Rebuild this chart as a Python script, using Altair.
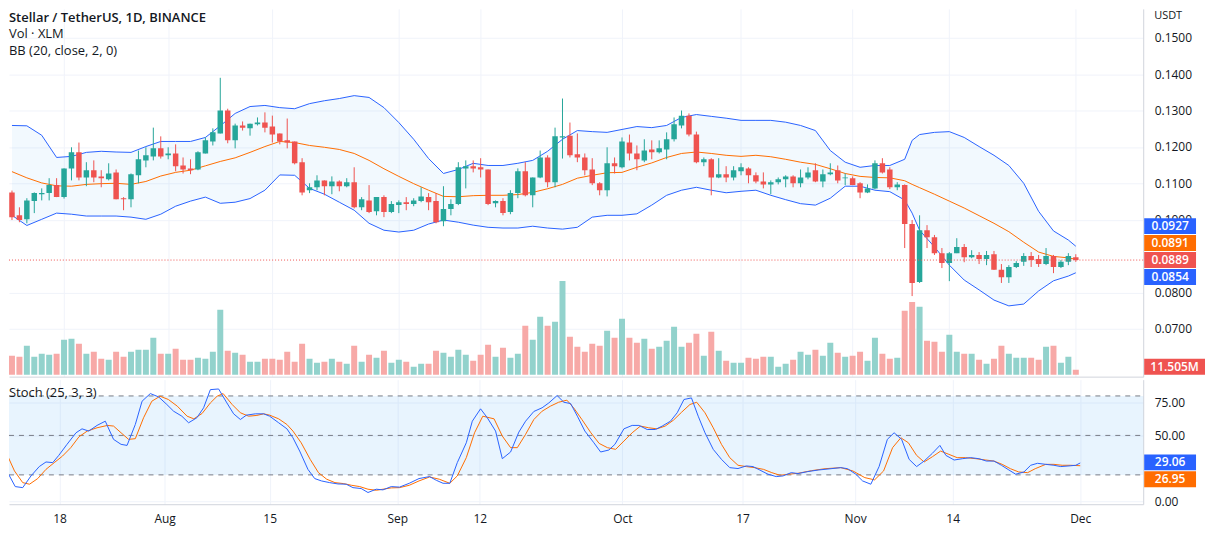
import altair as alt
import pandas as pd

# ---------------- data ----------------
# daily candles, day 0 = 2021-07-11 ... day 143 = 2021-12-01
opens = [.1075,.1012,.1001,.1051,.1070,.1073,.1095,.1062,.1141,.1185,
         .1116,.1136,.1119,.1111,.1130,.1059,.1056,.1122,.1163,.1174,
         .1196,.1177,.1182,.1149,.1141,.1138,.1182,.1215,.1237,.1300,
         .1218,.1259,.1251,.1262,.1267,.1256,.1237,.1218,.1215,.1158,
         .1081,.1089,.1108,.1092,.1105,.1092,.1103,.1034,.1053,.1023,
         .1062,.1021,.1040,.1048,.1043,.1051,.1062,.1051,.0996,.1029,
         .1043,.1141,.1147,.1144,.1138,.1045,.1051,.1021,.1073,.1133,
         .1067,.1116,.1171,.1103,.1226,.1231,.1180,.1171,.1138,.1100,
         .1081,.1155,.1144,.1212,.1182,.1163,.1193,.1185,.1193,.1221,
         .1259,.1286,.1234,.1158,.1166,.1116,.1125,.1116,.1133,.1141,
         .1122,.1105,.1097,.1103,.1111,.1119,.1100,.1116,.1136,.1105,
         .1125,.1136,.1114,.1114,.1100,.1075,.1086,.1155,.1138,.1089,
         .1095,.0988,.0829,.0971,.0952,.0908,.0881,.0908,.0925,.0897,
         .0903,.0892,.0905,.0862,.0842,.0870,.0884,.0900,.0892,.0878,
         .0900,.0870,.0884,.0897]
highs = [.1080,.1034,.1059,.1075,.1086,.1114,.1114,.1141,.1199,.1212,
         .1158,.1163,.1136,.1155,.1138,.1062,.1127,.1190,.1199,.1253,
         .1229,.1199,.1207,.1171,.1166,.1188,.1226,.1251,.1390,.1305,
         .1264,.1270,.1264,.1281,.1295,.1286,.1237,.1278,.1215,.1169,
         .1100,.1122,.1108,.1119,.1108,.1114,.1144,.1062,.1095,.1062,
         .1067,.1051,.1053,.1062,.1059,.1089,.1073,.1073,.1092,.1056,
         .1158,.1163,.1163,.1169,.1138,.1053,.1059,.1081,.1141,.1158,
         .1116,.1190,.1177,.1253,.1333,.1267,.1237,.1182,.1169,.1103,
         .1199,.1171,.1226,.1234,.1204,.1221,.1218,.1218,.1240,.1281,
         .1300,.1292,.1242,.1171,.1169,.1169,.1147,.1147,.1155,.1144,
         .1130,.1130,.1108,.1116,.1122,.1122,.1138,.1144,.1155,.1138,
         .1155,.1149,.1127,.1119,.1103,.1097,.1163,.1169,.1144,.1103,
         .1097,.0999,.1012,.0985,.0958,.0922,.0911,.0949,.0933,.0916,
         .0911,.0914,.0914,.0878,.0875,.0886,.0908,.0911,.0903,.0922,
         .0903,.0889,.0908,.0905]
lows = [.0999,.0993,.0990,.1018,.1053,.1053,.1062,.1058,.1108,.1108,
        .1092,.1103,.1089,.1108,.1056,.1026,.1034,.1100,.1144,.1163,
        .1168,.1166,.1133,.1127,.1125,.1136,.1182,.1204,.1237,.1210,
        .1196,.1245,.1231,.1259,.1240,.1212,.1207,.1196,.1152,.1067,
        .1073,.1081,.1067,.1070,.1078,.1089,.1031,.1026,.1018,.1012,
        .1007,.1018,.1018,.1026,.1037,.1048,.1026,.0990,.0982,.1012,
        .1040,.1086,.1130,.1116,.1040,.1034,.1012,.1015,.1059,.1064,
        .1034,.1114,.1089,.1089,.1168,.1171,.1158,.1122,.1095,.1067,
        .1064,.1127,.1141,.1163,.1136,.1158,.1166,.1182,.1166,.1215,
        .1251,.1229,.1155,.1147,.1067,.1114,.1103,.1108,.1122,.1100,
        .1100,.1086,.1070,.1097,.1089,.1089,.1089,.1111,.1103,.1089,
        .1122,.1100,.1095,.1095,.1059,.1073,.1084,.1127,.1084,.1081,
        .0922,.0790,.0826,.0922,.0903,.0867,.0831,.0908,.0883,.0894,
        .0878,.0875,.0862,.0826,.0826,.0867,.0873,.0870,.0870,.0875,
        .0853,.0867,.0875,.0884]
closes = [.1007,.0999,.1053,.1073,.1073,.1095,.1062,.1141,.1185,.1116,
          .1136,.1116,.1114,.1127,.1056,.1056,.1125,.1166,.1177,.1196,
          .1174,.1182,.1147,.1138,.1136,.1185,.1218,.1240,.1300,.1218,
          .1259,.1253,.1264,.1267,.1253,.1234,.1215,.1212,.1155,.1075,
          .1089,.1108,.1092,.1105,.1092,.1103,.1034,.1056,.1021,.1062,
          .1021,.1043,.1048,.1043,.1053,.1064,.1048,.0993,.1029,.1043,
          .1144,.1147,.1141,.1138,.1043,.1051,.1018,.1073,.1133,.1067,
          .1116,.1171,.1103,.1229,.1229,.1177,.1171,.1136,.1100,.1081,
          .1155,.1147,.1215,.1182,.1166,.1190,.1185,.1196,.1221,.1262,
          .1286,.1234,.1158,.1166,.1116,.1125,.1116,.1136,.1144,.1122,
          .1105,.1097,.1103,.1111,.1119,.1100,.1116,.1130,.1105,.1125,
          .1130,.1108,.1116,.1095,.1075,.1086,.1155,.1130,.1089,.1097,
          .0988,.0826,.0971,.0952,.0908,.0881,.0908,.0925,.0897,.0903,
          .0892,.0903,.0862,.0842,.0870,.0881,.0900,.0889,.0878,.0900,
          .0870,.0884,.0900,.0889]
# volume in millions of XLM
volumes = [43.7,41.4,66.7,41.4,48.3,46.0,48.3,80.5,82.8,71.3,
           48.3,52.9,36.8,34.5,52.9,41.4,52.9,57.5,57.5,85.1,
           48.3,48.3,59.8,34.5,34.5,39.1,36.8,52.9,149.5,55.2,
           50.6,46.0,29.9,29.9,36.8,36.8,34.5,52.9,29.9,71.3,
           36.8,27.6,29.9,36.8,29.9,25.3,66.7,29.9,46.0,39.1,
           55.2,27.6,34.5,29.9,18.4,25.3,25.3,55.2,50.6,41.4,
           57.5,46.0,32.2,46.0,69.0,41.4,62.1,39.1,48.3,112.7,
           80.5,133.4,112.7,121.9,216.2,87.4,64.4,52.9,71.3,66.7,
           101.2,85.1,128.8,85.1,73.6,82.8,59.8,64.4,78.2,110.4,
           64.4,73.6,94.3,43.7,98.9,55.2,32.2,27.6,27.6,39.1,
           36.8,41.4,41.4,18.4,25.3,34.5,52.9,46.0,57.5,43.7,
           73.6,50.6,41.4,43.7,52.9,32.2,85.1,48.3,36.8,39.1,
           147.2,167.9,156.4,78.2,75.9,52.9,92.0,52.9,48.3,48.3,
           34.5,25.3,36.8,66.7,48.3,39.1,39.1,39.1,34.5,64.4,
           66.7,27.6,41.4,11.505]

# Bollinger Bands (20, close, 2) read at these days
bb_days = list(range(0, 121, 2)) + [121] + list(range(122, 143, 2)) + [143]
bb_upper = [.1259,.1258,.1232,.1171,.1174,.1185,.1188,.1186,.1185,.1201,
            .1215,.1215,.1215,.1226,.1258,.1292,.1311,.1314,.1308,.1305,
            .1319,.1327,.1333,.1341,.1336,.1308,.1267,.1221,.1168,.1127,
            .1138,.1155,.1149,.1149,.1155,.1163,.1188,.1221,.1245,.1242,
            .1240,.1248,.1256,.1253,.1259,.1281,.1289,.1284,.1279,.1273,
            .1273,.1273,.1268,.1259,.1245,.1190,.1158,.1144,.1149,.1149,
            .1166,.1218,.1234,.1240,.1242,.1226,.1201,.1177,.1149,.1100,
            .1023,.0969,.0944,.0927]
bb_basis = [.1132,.1115,.1101,.1093,.1092,.1097,.1099,.1100,.1097,.1105,
            .1120,.1130,.1136,.1148,.1160,.1170,.1185,.1201,.1215,.1212,
            .1204,.1199,.1193,.1182,.1163,.1140,.1119,.1099,.1081,.1064,
            .1063,.1066,.1067,.1067,.1069,.1075,.1085,.1097,.1114,.1122,
            .1129,.1130,.1144,.1156,.1171,.1182,.1186,.1182,.1177,.1174,
            .1177,.1173,.1166,.1158,.1152,.1140,.1127,.1119,.1116,.1115,
            .1107,.1097,.1088,.1070,.1051,.1032,.1011,.0990,.0967,.0938,
            .0911,.0899,.0895,.0891]
bb_lower = [.1012,.0984,.1001,.1018,.1015,.1010,.1010,.1010,.1007,.1001,
            .1015,.1037,.1051,.1062,.1045,.1048,.1058,.1081,.1123,.1122,
            .1086,.1070,.1048,.1026,.0990,.0971,.0966,.0971,.0988,.0999,
            .0993,.0985,.0979,.0977,.0977,.0982,.0977,.0974,.0979,.1007,
            .1012,.1012,.1016,.1040,.1067,.1081,.1089,.1081,.1074,.1078,
            .1081,.1067,.1055,.1044,.1040,.1059,.1092,.1092,.1081,.1077,
            .1054,.1018,.0971,.0925,.0875,.0834,.0807,.0779,.0763,.0768,
            .0804,.0832,.0845,.0854]

# Stochastic (25, 3, 3)
k_days = [-0.8,0.1,1.1,2.1,3.2,4.3,5.2,6.1,6.9,8.0,
          9.2,10.0,10.9,12.0,13.1,14.2,15.2,16.0,17.1,18.0,
          19.1,20.2,21.3,22.2,23.3,24.2,25.3,26.2,27.1,28.2,
          29.3,30.2,31.1,31.9,33.1,34.2,35.0,36.2,37.3,38.1,
          39.0,40.1,41.0,41.9,43.0,44.1,45.2,46.1,47.2,48.1,
          49.2,50.1,51.2,52.3,53.6,54.9,56.3,57.2,58.1,59.0,
          60.0,61.2,62.0,63.1,64.0,65.1,66.0,67.1,68.2,69.1,
          70.2,71.3,72.2,73.3,74.2,75.1,76.0,77.0,78.2,79.1,
          80.2,81.0,82.2,83.3,84.2,85.3,86.4,87.3,88.4,89.3,
          90.2,91.2,92.1,93.0,94.1,95.2,96.3,97.4,98.5,99.4,
          100.3,101.4,102.5,103.4,104.5,105.4,106.7,108.1,109.8,111.1,
          112.0,113.1,114.0,115.1,116.2,117.3,118.2,119.2,120.2,121.2,
          122.2,123.3,124.3,125.1,126.2,127.3,128.4,129.5,130.5,131.5,
          132.5,133.5,134.4,135.5,136.4,137.3,138.4,139.5,140.4,141.5,
          142.4,143.0]
k_vals = [35.6,21.7,11.1,10.3,19.2,26.3,29.8,29.3,34.8,43.2,
          52.0,55.0,53.3,57.6,60.8,47.0,43.2,42.4,58.3,76.0,
          81.8,79.3,73.5,68.4,64.6,59.6,63.4,71.0,84.8,85.3,
          74.7,66.4,62.1,65.4,66.4,66.4,64.6,59.6,55.0,48.2,
          38.1,24.2,17.2,15.4,14.1,13.1,12.9,10.3,9.6,6.6,
          9.1,8.6,11.1,10.7,13.6,17.2,18.7,15.9,13.6,13.6,
          29.3,44.4,60.8,70.2,63.4,53.3,32.3,37.4,52.5,60.8,
          68.2,71.0,74.7,80.3,75.2,74.2,64.6,53.3,44.4,37.4,
          38.9,43.2,55.0,57.6,57.6,54.5,54.5,57.1,60.8,67.2,
          77.3,78.5,64.6,52.0,39.4,31.8,25.5,24.8,26.8,26.3,
          23.7,20.5,18.7,19.2,21.7,21.0,22.5,23.7,24.7,25.5,
          24.7,20.5,15.4,12.9,26.3,47.0,52.0,47.0,31.8,26.3,
          30.5,36.4,42.4,34.8,31.3,32.3,33.1,32.3,30.5,30.5,
          27.3,23.7,20.5,22.2,27.3,28.8,28.0,27.3,26.3,26.8,
          27.3,29.06]
d_days = [-0.8,0.1,1.0,2.1,3.0,4.1,5.2,6.3,7.4,8.5,
          9.6,10.7,12.0,13.4,14.2,15.2,16.2,17.1,18.2,19.3,
          20.4,21.5,22.7,24.0,24.9,26.0,27.1,28.0,28.8,30.0,
          31.1,32.2,33.3,34.2,35.0,36.2,37.3,38.1,39.2,40.4,
          41.5,42.6,43.7,44.8,45.9,47.0,48.1,49.2,50.1,51.2,
          52.3,53.6,54.9,56.3,57.6,59.0,60.0,61.2,62.3,63.4,
          64.9,66.0,67.1,68.0,69.1,70.2,71.3,72.4,73.5,74.6,
          75.5,76.6,77.8,78.9,80.0,81.1,82.2,83.3,84.4,85.5,
          86.6,87.7,88.8,89.9,91.0,91.9,93.0,94.1,95.2,96.3,
          97.4,98.5,99.6,100.8,101.9,103.0,104.1,105.4,107.2,109.0,
          111.1,112.7,114.3,115.6,116.8,118.0,119.1,120.1,121.2,122.2,
          123.3,124.4,125.5,126.6,127.7,129.1,130.4,131.5,132.6,133.7,
          134.8,136.0,137.0,138.4,139.5,140.6,141.7,143.0]
d_vals = [40.7,34.3,23.0,14.1,12.9,17.2,24.2,29.3,34.3,40.7,
          49.0,53.3,55.8,57.6,57.1,52.0,47.0,47.5,63.4,76.0,
          79.8,77.3,72.2,64.6,62.6,66.7,74.7,79.8,81.8,73.5,
          67.2,64.6,65.2,66.4,65.4,62.6,58.3,53.3,44.4,31.8,
          21.7,16.7,14.1,13.4,12.1,11.1,9.1,8.3,9.1,10.1,
          10.3,12.1,15.4,18.4,16.7,13.6,19.2,33.1,52.0,64.6,
          62.6,49.5,40.7,40.7,50.8,62.1,68.4,72.2,75.2,76.8,
          71.0,62.1,52.0,43.9,40.7,39.4,45.7,52.0,57.1,55.8,
          55.0,57.1,61.6,67.7,73.5,75.2,67.2,55.8,43.2,33.1,
          27.3,26.3,25.5,24.2,21.7,19.7,20.5,21.2,23.2,24.7,
          25.5,23.0,17.9,16.2,23.0,40.7,48.2,44.4,34.8,29.8,
          33.8,38.1,35.6,33.1,33.1,32.3,31.3,30.5,28.0,24.7,
          22.2,21.7,24.7,28.0,28.0,27.3,27.3,26.95]
stoch_levels = [80, 50, 20]

tick_days = [7, 21, 35, 52, 63, 82, 98, 113, 126, 143]
tick_labels = ["18", "Aug", "15", "Sep", "12", "Oct", "17", "Nov", "14", "Dec"]
price_ticks = [0.07, 0.08, 0.10, 0.11, 0.12, 0.13, 0.14, 0.15]
stoch_ticks = [0, 50, 75]

# ---------------- style / layout ----------------
W, H1, H2 = 1138, 369, 125
FONT = "Open Sans"
TXT = "#131722"
UP, DOWN = "#26a69a", "#ef5350"
VUP, VDOWN = "#92d2cc", "#f7a9a7"
BLUE, ORANGE = "#2962ff", "#ff6d00"
GRID, BORDER = "#f0f3fa", "#d1d4dc"

x_scale = alt.Scale(domain=[0.27, 151.39], nice=False, zero=False)
price_scale = alt.Scale(domain=[0.05685, 0.15795], nice=False, zero=False)
vol_scale = alt.Scale(domain=[-4.6, 844.1], nice=False, zero=False)
stoch_scale = alt.Scale(domain=[-2.3, 92.4], nice=False, zero=False)

candles = pd.DataFrame({"day": list(range(len(closes))), "open": opens, "high": highs,
                        "low": lows, "close": closes, "volume": volumes})
candles["base"] = 0.0
bb = pd.DataFrame({"day": bb_days, "upper": bb_upper, "basis": bb_basis, "lower": bb_lower})
kdf = pd.DataFrame({"day": k_days, "v": k_vals})
ddf = pd.DataFrame({"day": d_days, "v": d_vals})

label_expr = " : ".join(f"datum.value == {d} ? '{l}'" for d, l in zip(tick_days, tick_labels)) + " : ''"

x_top = alt.X("day:Q", scale=x_scale, title=None,
              axis=alt.Axis(values=tick_days, labels=False, ticks=False, domain=True,
                            domainColor=BORDER, grid=True, gridColor=GRID))
x_bot = alt.X("day:Q", scale=x_scale, title=None,
              axis=alt.Axis(values=tick_days, labelExpr=label_expr, labelFont=FONT,
                            labelFontSize=12, labelColor=TXT, labelPadding=9, labelAngle=0,
                            labelOverlap=False, labelFlush=False, ticks=False, domain=True,
                            domainColor=BORDER, grid=True, gridColor=GRID))
price_axis = alt.Axis(orient="right", values=price_ticks, format=".4f", labelFont=FONT,
                      labelFontSize=12, labelColor=TXT, labelPadding=11, ticks=False,
                      domain=True, domainColor=BORDER, grid=True, gridColor=GRID)
stoch_axis = alt.Axis(orient="right", values=stoch_ticks, format=".2f", labelFont=FONT,
                      labelFontSize=12, labelColor=TXT, labelPadding=11, ticks=False,
                      domain=True, domainColor=BORDER, grid=True, gridColor=GRID)


def py(field):
    return alt.Y(field, scale=price_scale, axis=price_axis, title=None)


def sy(field):
    return alt.Y(field, scale=stoch_scale, axis=stoch_axis, title=None)


updown = alt.condition("datum.close >= datum.open", alt.value(UP), alt.value(DOWN))
vupdown = alt.condition("datum.close >= datum.open", alt.value(VUP), alt.value(VDOWN))

vol = alt.Chart(candles).mark_bar(size=6, clip=True).encode(
    x=x_top, y=alt.Y("volume:Q", scale=vol_scale, axis=None, title=None), y2="base:Q", color=vupdown)

bb_area = alt.Chart(bb).mark_area(color="#2196f3", opacity=0.06, clip=True).encode(
    x=x_top, y=py("upper:Q"), y2="lower:Q")
bb_up = alt.Chart(bb).mark_line(color=BLUE, strokeWidth=1, clip=True).encode(x=x_top, y=py("upper:Q"))
bb_mid = alt.Chart(bb).mark_line(color=ORANGE, strokeWidth=1, clip=True).encode(x=x_top, y=py("basis:Q"))
bb_lo = alt.Chart(bb).mark_line(color=BLUE, strokeWidth=1, clip=True).encode(x=x_top, y=py("lower:Q"))
wicks = alt.Chart(candles).mark_rule(strokeWidth=1, clip=True).encode(
    x=x_top, y=py("low:Q"), y2="high:Q", color=updown)
bodies = alt.Chart(candles).mark_bar(size=5.5, clip=True).encode(
    x=x_top, y=py("open:Q"), y2="close:Q", color=updown)
last_line = alt.Chart(pd.DataFrame({"p": [closes[-1]]})).mark_rule(
    color=DOWN, strokeDash=[1, 2], strokeWidth=1).encode(
    x=alt.value(0), x2=alt.value(W), y=py("p:Q"))


def label(text, x, y, size=13, weight="normal", color=TXT, align="left"):
    return alt.Chart(pd.DataFrame({"t": [text]})).mark_text(
        align=align, baseline="middle", font=FONT, fontSize=size, fontWeight=weight,
        color=color).encode(x=alt.value(x), y=alt.value(y), text="t:N")


def badge(text, color, cy, w=52):
    box = alt.Chart(pd.DataFrame({"t": [text]})).mark_rect(color=color).encode(
        x=alt.value(W + 1), x2=alt.value(W + 1 + w), y=alt.value(cy - 8), y2=alt.value(cy + 8))
    return [box, label(text, W + 1 + w / 2, cy, size=12, weight=600, color="white", align="center")]


top_badges = []
for t, c, cy, w in zip([f"{bb_upper[-1]:.4f}", f"{bb_basis[-1]:.4f}", f"{closes[-1]:.4f}",
                        f"{bb_lower[-1]:.4f}", f"{volumes[-1]:.3f}M"],
                       [BLUE, ORANGE, DOWN, BLUE, DOWN], [218, 235, 252, 269, 359],
                       [52, 52, 52, 52, 61]):
    top_badges += badge(t, c, cy, w)

price_group = alt.layer(
    bb_area, bb_up, bb_mid, bb_lo, wicks, bodies, last_line,
    label("Stellar / TetherUS, 1D, BINANCE", 0, 9, size=13, weight=600),
    label("Vol · XLM", 0, 25),
    label("BB (20, close, 2, 0)", 0, 42),
    label("USDT", W + 11, 7, size=11),
    *top_badges,
)
top = alt.layer(vol, price_group).resolve_scale(y="independent").properties(width=W, height=H1)

band = alt.Chart(pd.DataFrame({"hi": [stoch_levels[0]], "lo": [stoch_levels[-1]]})).mark_rect(
    color="#2196f3", opacity=0.1).encode(x=alt.value(0), x2=alt.value(W), y=sy("hi:Q"), y2="lo:Q")
dashes = alt.Chart(pd.DataFrame({"level": stoch_levels})).mark_rule(
    color="#787b86", strokeDash=[5, 5], strokeWidth=1).encode(
    x=alt.value(0), x2=alt.value(W), y=sy("level:Q"))
k_line = alt.Chart(kdf).mark_line(color=BLUE, strokeWidth=1, clip=True).encode(x=x_bot, y=sy("v:Q"))
d_line = alt.Chart(ddf).mark_line(color=ORANGE, strokeWidth=1, clip=True).encode(x=x_bot, y=sy("v:Q"))

bot_badges = badge(f"{k_vals[-1]:.2f}", BLUE, 83) + badge(f"{d_vals[-1]:.2f}", ORANGE, 100)

bottom = alt.layer(
    band, dashes, d_line, k_line,
    label("Stoch (25, 3, 3)", 0, 13),
    *bot_badges,
).properties(width=W, height=H2)

chart = alt.vconcat(top, bottom, spacing=3).resolve_scale(x="independent").properties(
    padding={"left": 0, "top": 0, "right": 0, "bottom": 4},
    background="white").configure_view(stroke=None)

chart.save("out.html", embed_options={"renderer": "svg", "actions": False})
